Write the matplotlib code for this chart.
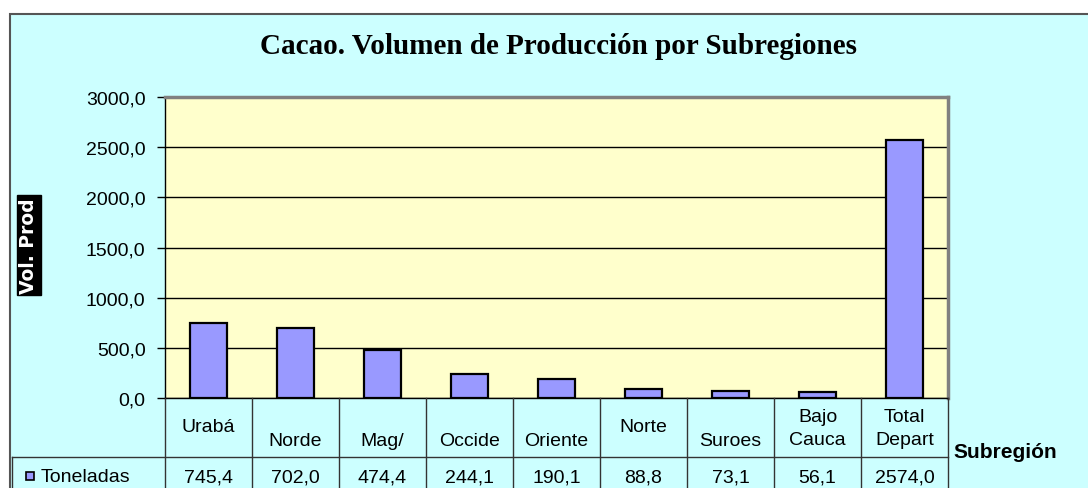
import matplotlib
matplotlib.use("Agg")
import matplotlib.pyplot as plt
import matplotlib.transforms as mtransforms
from matplotlib.patches import Rectangle

# cacao production volume by subregion (tonnes)
subregiones = ["Urabá", "Norde", "Mag/", "Occide", "Oriente", "Norte", "Suroes", "Bajo\nCauca", "Total\nDepart"]
toneladas = [745.4, 702.0, 474.4, 244.1, 190.1, 88.8, 73.1, 56.1, 2574.0]
# header rows where the single-word labels sit (upper line or lower line)
label_row = ["top", "low", "low", "low", "low", "top", "low", "two", "two"]
yticks = [0, 500, 1000, 1500, 2000, 2500, 3000]

W, H = 1088, 489
sans = ["Liberation Sans", "Arial", "DejaVu Sans"]
fs = 14
bg_chart = "#CCFFFF"
bg_plot = "#FFFFCC"
bar_col = "#9999FF"


def fmt(v):
    return ("%.1f" % v).replace(".", ",")


fig = plt.figure(figsize=(W / 100, H / 100), dpi=100)
fig.patch.set_facecolor("white")

# chart area: cyan box with border, running off the right and bottom
fig.patches.append(Rectangle((10 / W, -0.1), 1.2, (H - 15) / H + 0.1,
                             transform=fig.transFigure, facecolor=bg_chart,
                             edgecolor="#555555", linewidth=1.5, zorder=-5))

left, right, top, bottom = 165, 948, 98, 399
ax = fig.add_axes([left / W, (H - bottom) / H, (right - left) / W, (bottom - top) / H])
ax.set_facecolor(bg_plot)

x = list(range(len(toneladas)))
ax.bar(x, toneladas, width=0.42, color=bar_col, edgecolor="black", linewidth=1.6, zorder=3)

ax.set_xlim(-0.5, len(toneladas) - 0.5)
ax.set_ylim(0, 3000)
ax.set_yticks(yticks)
ax.set_yticklabels([fmt(v) for v in yticks], fontsize=fs, family=sans)
ax.tick_params(axis="y", length=6, width=1, pad=8, colors="black")
ax.tick_params(axis="x", length=0, labelbottom=False)
ax.grid(axis="y", color="black", linewidth=1, zorder=1)
ax.set_axisbelow(True)
for side in ("top", "right"):
    ax.spines[side].set_color("#808080")
    ax.spines[side].set_linewidth(2.5)
ax.spines["left"].set_color("black")
ax.spines["left"].set_linewidth(1)
ax.spines["bottom"].set_color("black")
ax.spines["bottom"].set_linewidth(1)

fig.text(558 / W, 1 - 47 / H, "Cacao. Volumen de Producción por Subregiones",
         ha="center", va="center", fontsize=21, fontweight="bold",
         family=["Liberation Serif", "Times New Roman", "DejaVu Serif"])

fig.text(29 / W, 1 - 246 / H, "Vol. Prod", rotation=90, ha="center", va="center",
         fontsize=13.5, fontweight="bold", color="white",
         family=["Liberation Sans Narrow", "DejaVu Sans"],
         bbox=dict(boxstyle="square,pad=0.12", facecolor="black", edgecolor="black"))

# data table under the axis: x follows the category scale, y in pixels
over = fig.add_axes([0, 0, 1, 1], facecolor="none")
over.set_xlim(0, W)
over.set_ylim(H, 0)
over.axis("off")
tr = mtransforms.blended_transform_factory(ax.transData, over.transData)

row_split = 458
edges = [i - 0.5 for i in range(len(toneladas) + 1)]
line_kw = dict(color="#333333", linewidth=1, clip_on=False)
for e in edges:
    over.plot([e, e], [bottom, H + 5], transform=tr, **line_kw)
over.plot([12, right], [row_split, row_split], **line_kw)
over.plot([12, 12], [row_split, H + 5], **line_kw)

for i, (name, val, pos) in enumerate(zip(subregiones, toneladas, label_row)):
    if pos == "two":
        ly = 429
    elif pos == "top":
        ly = 428
    else:
        ly = 442
    over.text(i, ly, name, transform=tr, ha="center", va="center", fontsize=fs,
              family=sans, linespacing=1.45)
    over.text(i, 478, fmt(val), transform=tr, ha="center", va="center", fontsize=fs,
              family=sans)

# legend key in the data row
over.add_patch(Rectangle((26, 473), 8, 8, facecolor=bar_col, edgecolor="black", linewidth=1.2))
over.text(41, 478, "Toneladas", ha="left", va="center", fontsize=fs, family=sans)

over.text(953, 452, "Subregión", ha="left", va="center", fontsize=15,
          fontweight="bold", family=sans)

fig.savefig("out.png", dpi=100)
